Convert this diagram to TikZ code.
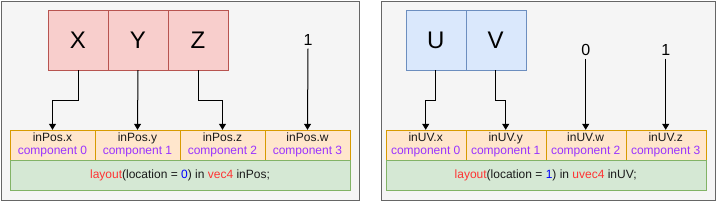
\documentclass[tikz,border=0pt]{standalone}
\usepackage{fontspec}
\setmainfont{Liberation Sans}
\usetikzlibrary{arrows.meta}
\definecolor{panelfill}{HTML}{F5F5F5}
\definecolor{panelline}{HTML}{666666}
\definecolor{redfill}{HTML}{F8CECC}
\definecolor{redline}{HTML}{B85450}
\definecolor{bluefill}{HTML}{DAE8FC}
\definecolor{blueline}{HTML}{6C8EBF}
\definecolor{orfill}{HTML}{FFE6CC}
\definecolor{orline}{HTML}{D79B00}
\definecolor{grfill}{HTML}{D5E8D4}
\definecolor{grline}{HTML}{82B366}
\definecolor{purp}{HTML}{9933FF}
\definecolor{kwred}{HTML}{FF3333}
\definecolor{numblue}{HTML}{0000FF}
\definecolor{txt}{HTML}{1A1A1A}
\tikzset{
  panel/.style={draw=panelline, fill=panelfill, line width=1pt},
  bigletter/.style={draw=redline, fill=redfill, minimum width=60pt, minimum height=60pt, inner sep=0pt, font=\fontsize{24}{28}\selectfont, text=black},
  uvletter/.style={bigletter, draw=blueline, fill=bluefill},
  cell/.style={draw=orline, fill=orfill, minimum height=30pt, inner sep=0pt, align=center, font=\fontsize{12}{13.5}\selectfont, text=txt},
  decl/.style={draw=grline, fill=grfill, minimum height=30pt, inner sep=0pt, font=\fontsize{12}{14}\selectfont, text=txt},
  const/.style={inner sep=0pt, font=\fontsize{16}{18}\selectfont, text=black},
  link/.style={draw=black, line width=1pt, -{Triangle[length=6pt,width=7pt]}},
}
\newcommand{\comp}[1]{\\\textcolor{purp}{component #1}}
\begin{document}
\begin{tikzpicture}[x=1pt,y=-1pt]
\useasboundingbox (0,0) rectangle (716,201);
% panels
\draw[panel] (1,1) rectangle (359,200);
\draw[panel] (381,1) rectangle (715,200);
% left top
\node[bigletter] (X) at (78,40) {X};
\node[bigletter] (Y) at (138,40) {Y};
\node[bigletter] (Z) at (198,40) {Z};
\node[const] (one) at (308,40) {1};
% left bottom
\node[cell, minimum width=85pt] (px) at (52.5,145) {inPos.x\comp{0}};
\node[cell, minimum width=85pt] (py) at (137.5,145) {inPos.y\comp{1}};
\node[cell, minimum width=85pt] (pz) at (222.5,145) {inPos.z\comp{2}};
\node[cell, minimum width=85pt] (pw) at (307.5,145) {inPos.w\comp{3}};
\node[decl, minimum width=340pt] (dl) at (180,175) {\textcolor{kwred}{layout}(location = \textcolor{numblue}{0}) in \textcolor{kwred}{vec4} inPos;};
\draw[link] (X.south) -- ++(0,30) -| (px.north);
\draw[link] (Y.south) -- (py.north);
\draw[link] (Z.south) -- ++(0,30) -| (pz.north);
\draw[link] (one.south) ++(0,3) -- (pw.north);
% right top
\node[uvletter] (U) at (435.7,40) {U};
\node[uvletter] (V) at (495.7,40) {V};
\node[const] (zero) at (585.7,50) {0};
\node[const] (oneb) at (665.7,50) {1};
% right bottom
\node[cell, minimum width=80pt] (ux) at (425.7,145) {inUV.x\comp{0}};
\node[cell, minimum width=80pt] (uy) at (505.7,145) {inUV.y\comp{1}};
\node[cell, minimum width=80pt] (uw) at (585.7,145) {inUV.w\comp{2}};
\node[cell, minimum width=80pt] (uz) at (665.7,145) {inUV.z\comp{3}};
\node[decl, minimum width=320pt] (dr) at (545.7,175) {\textcolor{kwred}{layout}(location = \textcolor{numblue}{1}) in \textcolor{kwred}{uvec4} inUV;};
\draw[link] (U.south) -- ++(0,30) -| (ux.north);
\draw[link] (V.south) -- ++(0,30) -| (uy.north);
\draw[link] (zero.south) ++(0,3) -- (uw.north);
\draw[link] (oneb.south) ++(0,3) -- (uz.north);
\end{tikzpicture}
\end{document}
